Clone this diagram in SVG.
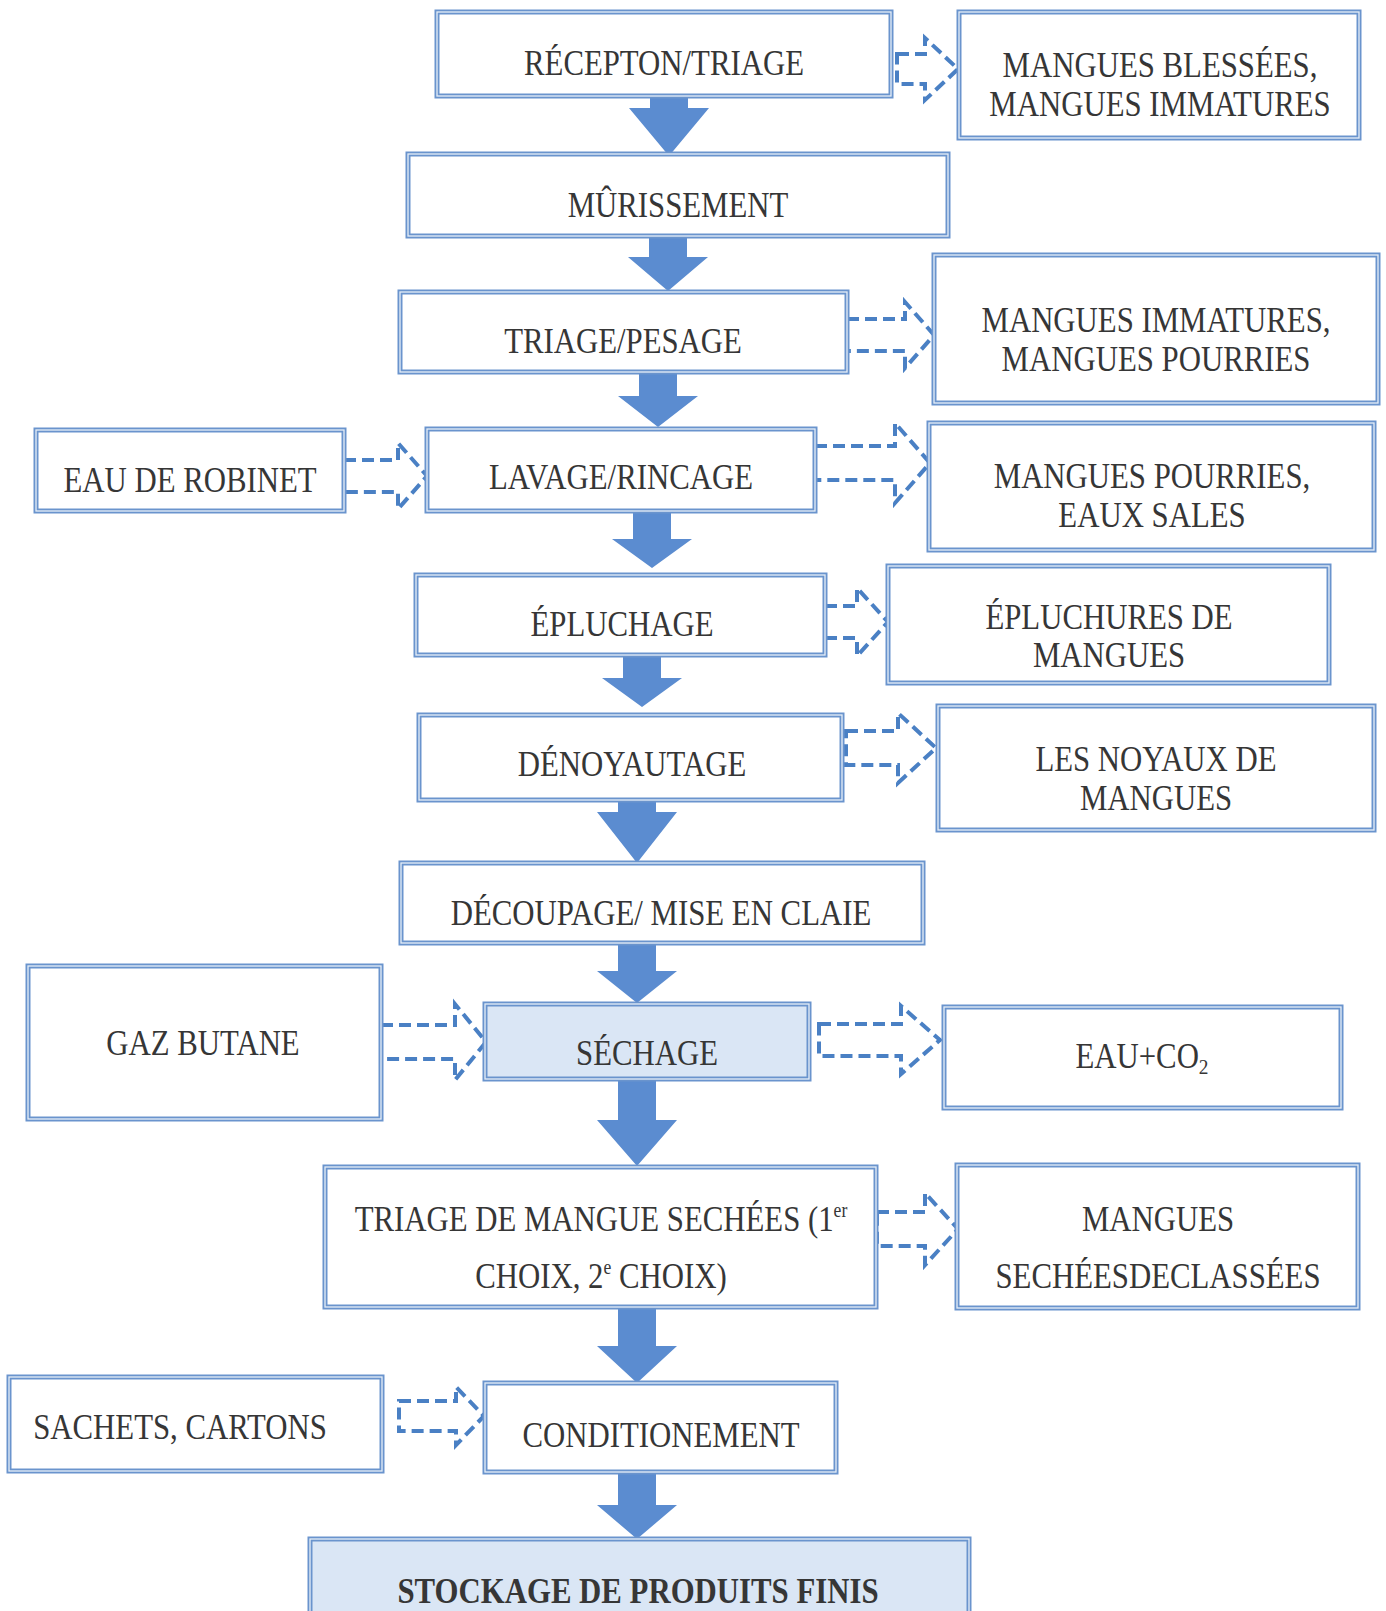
<svg xmlns="http://www.w3.org/2000/svg" width="1386" height="1611" viewBox="0 0 1386 1611">
<style>
.b{fill:#ffffff;stroke:#6a94cd;stroke-width:5}
.bi{fill:none;stroke:#e6eef8;stroke-width:1.3}
.f{fill:#dae6f5}
.t{font-family:"Liberation Serif","Times New Roman",serif;font-size:35px;fill:#363636;text-anchor:middle}
.bold{font-weight:bold}
.a{fill:#5b8cd0}
.d{fill:none;stroke:#4a80c4;stroke-width:4;stroke-dasharray:12 6;stroke-linejoin:miter}
</style>
<rect width="1386" height="1611" fill="#ffffff"/>
<g id="connectors">
<path class="a" d="M650,96 H688 V108 H709 L669,156 L629,108 H650 Z"/>
<path class="a" d="M649,236 H687 V257 H708 L668,291 L628,257 H649 Z"/>
<path class="a" d="M639,372 H677 V396 H698 L658,427 L618,396 H639 Z"/>
<path class="a" d="M633,511 H671 V539 H692 L652,568 L612,539 H633 Z"/>
<path class="a" d="M623,655 H661 V678 H682 L642,707 L602,678 H623 Z"/>
<path class="a" d="M618,789 H656 V812 H677 L637,863 L597,812 H618 Z"/>
<path class="a" d="M618,943 H656 V971 H677 L637,1003 L597,971 H618 Z"/>
<path class="a" d="M618,1079 H656 V1120 H677 L637,1166 L597,1120 H618 Z"/>
<path class="a" d="M618,1308 H656 V1346 H677 L637,1383 L597,1346 H618 Z"/>
<path class="a" d="M618,1472 H656 V1505 H677 L637,1539 L597,1505 H618 Z"/>
<path class="d" d="M897,54 H925 V38 L958,69 L925,100 V84 H897 Z"/>
<path class="d" d="M847,319 H905 V302 L934,335 L905,368 V351 H847 Z"/>
<path class="d" d="M344,460 H398 V443 L427,476 L398,509 V492 H344 Z"/>
<path class="d" d="M815,446 H895 V423 L930,463 L895,503 V480 H815 Z"/>
<path class="d" d="M825,606 H857 V588 L888,622 L857,656 V638 H825 Z"/>
<path class="d" d="M846,731 H898 V713 L936,748 L898,783 V765 H846 Z"/>
<path class="d" d="M381,1025 H455 V1004 L486,1042 L455,1080 V1059 H381 Z"/>
<path class="d" d="M819,1024 H901 V1006 L940,1040 L901,1074 V1056 H819 Z"/>
<path class="d" d="M877,1212 H925 V1193 L958,1229 L925,1265 V1246 H877 Z"/>
<path class="d" d="M399,1401 H456 V1387 L484,1416 L456,1445 V1431 H399 Z"/>
</g>
<g id="n1"><rect class="b" x="437" y="12" width="454" height="84"/><rect class="bi" x="437" y="12" width="454" height="84"/>
<text class="t" transform="translate(664,75) scale(0.88,1)">RÉCEPTON/TRIAGE</text></g>
<g id="n2"><rect class="b" x="959" y="12" width="400" height="126"/><rect class="bi" x="959" y="12" width="400" height="126"/>
<text class="t" transform="translate(1160,77) scale(0.88,1)">MANGUES BLESSÉES,</text>
<text class="t" transform="translate(1160,116) scale(0.88,1)">MANGUES IMMATURES</text></g>
<g id="n3"><rect class="b" x="408" y="154" width="540" height="82"/><rect class="bi" x="408" y="154" width="540" height="82"/>
<text class="t" transform="translate(678,217) scale(0.88,1)">MÛRISSEMENT</text></g>
<g id="n4"><rect class="b" x="400" y="292" width="447" height="80"/><rect class="bi" x="400" y="292" width="447" height="80"/>
<text class="t" transform="translate(623,353) scale(0.88,1)">TRIAGE/PESAGE</text></g>
<g id="n5"><rect class="b" x="934" y="255" width="444" height="148"/><rect class="bi" x="934" y="255" width="444" height="148"/>
<text class="t" transform="translate(1156,332) scale(0.88,1)">MANGUES IMMATURES,</text>
<text class="t" transform="translate(1156,371) scale(0.88,1)">MANGUES POURRIES</text></g>
<g id="n6"><rect class="b" x="36" y="430" width="308" height="81"/><rect class="bi" x="36" y="430" width="308" height="81"/>
<text class="t" transform="translate(190,492) scale(0.88,1)">EAU DE ROBINET</text></g>
<g id="n7"><rect class="b" x="427" y="429" width="388" height="82"/><rect class="bi" x="427" y="429" width="388" height="82"/>
<text class="t" transform="translate(621,489) scale(0.88,1)">LAVAGE/RINCAGE</text></g>
<g id="n8"><rect class="b" x="929" y="423" width="445" height="127"/><rect class="bi" x="929" y="423" width="445" height="127"/>
<text class="t" transform="translate(1152,488) scale(0.88,1)">MANGUES POURRIES,</text>
<text class="t" transform="translate(1152,527) scale(0.88,1)">EAUX SALES</text></g>
<g id="n9"><rect class="b" x="416" y="575" width="409" height="80"/><rect class="bi" x="416" y="575" width="409" height="80"/>
<text class="t" transform="translate(622,636) scale(0.88,1)">ÉPLUCHAGE</text></g>
<g id="n10"><rect class="b" x="888" y="566" width="441" height="117"/><rect class="bi" x="888" y="566" width="441" height="117"/>
<text class="t" transform="translate(1109,629) scale(0.88,1)">ÉPLUCHURES DE</text>
<text class="t" transform="translate(1109,667) scale(0.88,1)">MANGUES</text></g>
<g id="n11"><rect class="b" x="419" y="715" width="423" height="85"/><rect class="bi" x="419" y="715" width="423" height="85"/>
<text class="t" transform="translate(632,776) scale(0.88,1)">DÉNOYAUTAGE</text></g>
<g id="n12"><rect class="b" x="938" y="706" width="436" height="124"/><rect class="bi" x="938" y="706" width="436" height="124"/>
<text class="t" transform="translate(1156,771) scale(0.88,1)">LES NOYAUX DE</text>
<text class="t" transform="translate(1156,810) scale(0.88,1)">MANGUES</text></g>
<g id="n13"><rect class="b" x="401" y="863" width="522" height="80"/><rect class="bi" x="401" y="863" width="522" height="80"/>
<text class="t" transform="translate(661,925) scale(0.88,1)">DÉCOUPAGE/ MISE EN CLAIE</text></g>
<g id="n14"><rect class="b" x="28" y="966" width="353" height="153"/><rect class="bi" x="28" y="966" width="353" height="153"/>
<text class="t" transform="translate(203,1055) scale(0.88,1)">GAZ BUTANE</text></g>
<g id="n15"><rect class="b f" x="485" y="1004" width="324" height="75"/><rect class="bi" x="485" y="1004" width="324" height="75"/>
<text class="t" transform="translate(647,1065) scale(0.88,1)">SÉCHAGE</text></g>
<g id="n16"><rect class="b" x="944" y="1007" width="397" height="101"/><rect class="bi" x="944" y="1007" width="397" height="101"/>
<text class="t" transform="translate(1142,1068) scale(0.88,1)">EAU+CO<tspan font-size="22" dy="6">2</tspan></text></g>
<g id="n17"><rect class="b" x="325" y="1167" width="551" height="140"/><rect class="bi" x="325" y="1167" width="551" height="140"/>
<text class="t" transform="translate(601,1231) scale(0.88,1)">TRIAGE DE MANGUE SECHÉES (1<tspan font-size="20" dy="-14">er</tspan></text>
<text class="t" transform="translate(601,1288) scale(0.88,1)">CHOIX, 2<tspan font-size="20" dy="-14">e</tspan><tspan dy="14"> CHOIX)</tspan></text></g>
<g id="n18"><rect class="b" x="957" y="1165" width="401" height="143"/><rect class="bi" x="957" y="1165" width="401" height="143"/>
<text class="t" transform="translate(1158,1231) scale(0.88,1)">MANGUES</text>
<text class="t" transform="translate(1158,1288) scale(0.88,1)">SECHÉESDECLASSÉES</text></g>
<g id="n19"><rect class="b" x="9" y="1377" width="373" height="94"/><rect class="bi" x="9" y="1377" width="373" height="94"/>
<text class="t" transform="translate(180,1439) scale(0.88,1)">SACHETS, CARTONS</text></g>
<g id="n20"><rect class="b" x="485" y="1383" width="351" height="89"/><rect class="bi" x="485" y="1383" width="351" height="89"/>
<text class="t" transform="translate(661,1447) scale(0.88,1)">CONDITIONEMENT</text></g>
<g id="n21"><rect class="b f" x="310" y="1539" width="659" height="90"/><rect class="bi" x="310" y="1539" width="659" height="90"/>
<text class="t bold" transform="translate(638,1603) scale(0.88,1)">STOCKAGE DE PRODUITS FINIS</text></g>
</svg>
